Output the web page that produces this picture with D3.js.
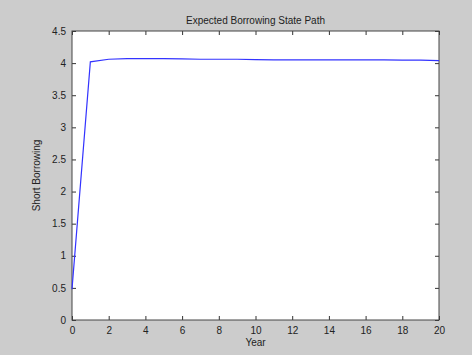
<!DOCTYPE html>
<html>
<head>
<meta charset="utf-8">
<script src="https://cdn.jsdelivr.net/npm/d3@7"></script>
<style>
  body { margin: 0; background: #cccccc; }
  svg { display: block; font-family: "Liberation Sans", Arial, sans-serif; }
</style>
</head>
<body>
<svg id="chart"></svg>
<script>
const years = [0, 1, 2, 3, 4, 5, 6, 7, 8, 9, 10, 11, 12, 13, 14, 15, 16, 17, 18, 19, 20];
const borrowing = [0.48, 4.02, 4.06, 4.07, 4.07, 4.07, 4.065, 4.06, 4.06, 4.06, 4.055, 4.05, 4.05, 4.05, 4.05, 4.05, 4.05, 4.05, 4.045, 4.045, 4.04];
const xTicks = [0, 2, 4, 6, 8, 10, 12, 14, 16, 18, 20];
const yTicks = [0, 0.5, 1, 1.5, 2, 2.5, 3, 3.5, 4, 4.5];

const width = 472, height = 355;
const margin = {top: 31, right: 33, bottom: 35, left: 72};
const iw = width - margin.left - margin.right;
const ih = height - margin.top - margin.bottom;

const svg = d3.select('#chart').attr('width', width).attr('height', height);
svg.append('rect').attr('width', width).attr('height', height).attr('fill', '#cccccc');

const x = d3.scaleLinear().domain([0, 20]).range([0, iw]);
const y = d3.scaleLinear().domain([0, 4.5]).range([ih, 0]);

const g = svg.append('g').attr('transform', `translate(${margin.left},${margin.top})`);
g.append('rect').attr('width', iw).attr('height', ih).attr('fill', '#ffffff');

const styleAxis = (sel, labels) => {
  sel.select('.domain').remove();
  sel.selectAll('line').attr('stroke', '#333');
  sel.selectAll('text').attr('fill', '#222').attr('font-size', 10);
  if (!labels) sel.selectAll('text').remove();
};

g.append('g').attr('transform', `translate(0,${ih})`)
  .call(d3.axisBottom(x).tickValues(xTicks).tickSize(-4).tickPadding(7).tickFormat(d3.format('d')))
  .call(s => styleAxis(s, true));
g.append('g')
  .call(d3.axisTop(x).tickValues(xTicks).tickSize(-4))
  .call(s => styleAxis(s, false));
g.append('g')
  .call(d3.axisLeft(y).tickValues(yTicks).tickSize(-4).tickPadding(6).tickFormat(d => String(d)))
  .call(s => styleAxis(s, true));
g.append('g').attr('transform', `translate(${iw},0)`)
  .call(d3.axisRight(y).tickValues(yTicks).tickSize(-4))
  .call(s => styleAxis(s, false));

g.append('rect').attr('width', iw).attr('height', ih)
  .attr('fill', 'none').attr('stroke', '#444').attr('stroke-width', 1);

const line = d3.line().x((d, i) => x(years[i])).y(d => y(d));
g.append('path').datum(borrowing)
  .attr('fill', 'none').attr('stroke', '#3333ff').attr('stroke-width', 1.2)
  .attr('d', line);

svg.append('text').attr('x', margin.left + iw / 2).attr('y', 24)
  .attr('text-anchor', 'middle').attr('font-size', 10).attr('fill', '#222')
  .text('Expected Borrowing State Path');
svg.append('text').attr('x', margin.left + iw / 2).attr('y', 346)
  .attr('text-anchor', 'middle').attr('font-size', 10).attr('fill', '#222')
  .text('Year');
svg.append('text')
  .attr('transform', `translate(40,${margin.top + ih / 2}) rotate(-90)`)
  .attr('text-anchor', 'middle').attr('font-size', 10).attr('fill', '#222')
  .text('Short Borrowing');
</script>
</body>
</html>
